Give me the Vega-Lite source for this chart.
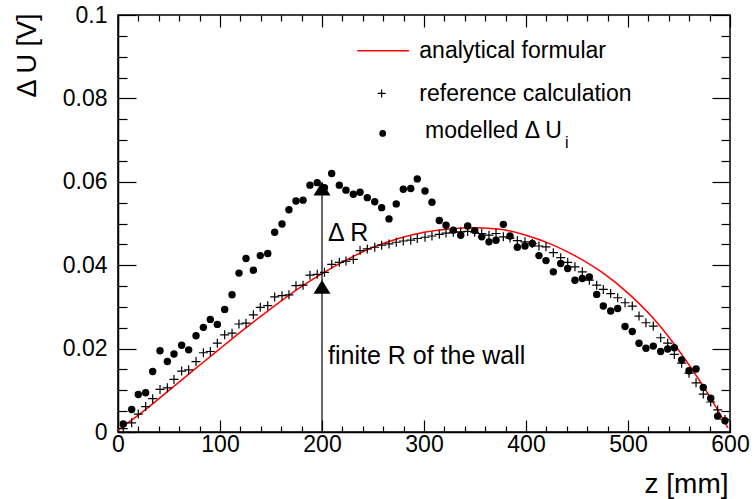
{
  "$schema": "https://vega.github.io/schema/vega-lite/v6.json",
  "width": 612,
  "height": 417,
  "autosize": {"type": "none"},
  "padding": {"left": 118, "top": 15, "right": 25, "bottom": 67},
  "background": "white",
  "config": {
    "font": "Liberation Sans",
    "view": {"stroke": "black", "strokeWidth": 1.5},
    "axis": {
      "domainColor": "black",
      "domainWidth": 1.5,
      "labelColor": "black",
      "labelFont": "Liberation Sans",
      "labelFontSize": 23,
      "labelOverlap": false,
      "labelFlush": false,
      "grid": false,
      "titleFont": "Liberation Sans",
      "titleFontWeight": "normal",
      "titleColor": "black"
    }
  },
  "datasets": {
    "analytical": [
      {"z": 0, "dU": 0.0005}, {"z": 25, "dU": 0.0050}, {"z": 50, "dU": 0.0100}, {"z": 75, "dU": 0.0150},
      {"z": 100, "dU": 0.0200}, {"z": 125, "dU": 0.0249}, {"z": 150, "dU": 0.0296}, {"z": 175, "dU": 0.0341},
      {"z": 200, "dU": 0.0380}, {"z": 225, "dU": 0.0414}, {"z": 250, "dU": 0.0443}, {"z": 275, "dU": 0.0464},
      {"z": 300, "dU": 0.0479}, {"z": 325, "dU": 0.0487}, {"z": 350, "dU": 0.0490}, {"z": 375, "dU": 0.0486},
      {"z": 400, "dU": 0.0472}, {"z": 425, "dU": 0.0450}, {"z": 450, "dU": 0.0420}, {"z": 475, "dU": 0.0382},
      {"z": 500, "dU": 0.0333}, {"z": 525, "dU": 0.0272}, {"z": 550, "dU": 0.0195}, {"z": 575, "dU": 0.0105},
      {"z": 598, "dU": 0.0010}
    ],
    "reference": [
      {"z": 5.2, "dU": 0.0008}, {"z": 13.4, "dU": 0.0022}, {"z": 19.9, "dU": 0.0043}, {"z": 27.1, "dU": 0.0061},
      {"z": 34.0, "dU": 0.0080}, {"z": 41.2, "dU": 0.0102}, {"z": 48.4, "dU": 0.0106}, {"z": 54.9, "dU": 0.0126},
      {"z": 62.4, "dU": 0.0146}, {"z": 69.3, "dU": 0.0149}, {"z": 76.5, "dU": 0.0169}, {"z": 83.7, "dU": 0.0190},
      {"z": 90.5, "dU": 0.0193}, {"z": 97.4, "dU": 0.0213}, {"z": 104.6, "dU": 0.0233}, {"z": 111.8, "dU": 0.0237},
      {"z": 118.6, "dU": 0.0259}, {"z": 125.5, "dU": 0.0261}, {"z": 132.7, "dU": 0.0281}, {"z": 139.5, "dU": 0.0299},
      {"z": 146.8, "dU": 0.0303}, {"z": 153.6, "dU": 0.0324}, {"z": 160.8, "dU": 0.0327}, {"z": 167.6, "dU": 0.0329},
      {"z": 174.5, "dU": 0.0351}, {"z": 181.4, "dU": 0.0352}, {"z": 188.2, "dU": 0.0376}, {"z": 195.3, "dU": 0.0378},
      {"z": 202.4, "dU": 0.0383}, {"z": 209.5, "dU": 0.0402}, {"z": 217.0, "dU": 0.0407}, {"z": 223.5, "dU": 0.0410},
      {"z": 230.7, "dU": 0.0414}, {"z": 237.3, "dU": 0.0435}, {"z": 244.4, "dU": 0.0439}, {"z": 251.7, "dU": 0.0443},
      {"z": 258.5, "dU": 0.0448}, {"z": 265.7, "dU": 0.0451}, {"z": 272.8, "dU": 0.0455}, {"z": 279.7, "dU": 0.0458},
      {"z": 287.0, "dU": 0.0460}, {"z": 293.4, "dU": 0.0464}, {"z": 301.0, "dU": 0.0467}, {"z": 307.8, "dU": 0.0470},
      {"z": 315.0, "dU": 0.0474}, {"z": 321.6, "dU": 0.0477}, {"z": 328.7, "dU": 0.0479}, {"z": 336.0, "dU": 0.0480},
      {"z": 342.8, "dU": 0.0481}, {"z": 349.7, "dU": 0.0479}, {"z": 356.6, "dU": 0.0476}, {"z": 363.7, "dU": 0.0472},
      {"z": 370.6, "dU": 0.0476}, {"z": 377.8, "dU": 0.0468}, {"z": 384.3, "dU": 0.0465}, {"z": 391.5, "dU": 0.0459},
      {"z": 399.0, "dU": 0.0456}, {"z": 406.2, "dU": 0.0452}, {"z": 412.7, "dU": 0.0446}, {"z": 419.6, "dU": 0.0444},
      {"z": 426.8, "dU": 0.0430}, {"z": 434.0, "dU": 0.0418}, {"z": 440.9, "dU": 0.0407}, {"z": 448.0, "dU": 0.0396},
      {"z": 455.2, "dU": 0.0384}, {"z": 462.1, "dU": 0.0364}, {"z": 469.3, "dU": 0.0352}, {"z": 475.8, "dU": 0.0342},
      {"z": 483.0, "dU": 0.0332}, {"z": 489.9, "dU": 0.0322}, {"z": 497.1, "dU": 0.0310}, {"z": 504.2, "dU": 0.0302},
      {"z": 510.8, "dU": 0.0278}, {"z": 517.6, "dU": 0.0262}, {"z": 524.8, "dU": 0.0254}, {"z": 532.0, "dU": 0.0226},
      {"z": 538.9, "dU": 0.0213}, {"z": 545.4, "dU": 0.0186}, {"z": 552.6, "dU": 0.0165}, {"z": 559.8, "dU": 0.0141},
      {"z": 566.7, "dU": 0.0118}, {"z": 573.8, "dU": 0.0091}, {"z": 581.1, "dU": 0.0072}, {"z": 587.9, "dU": 0.0053},
      {"z": 595.1, "dU": 0.0030}
    ],
    "modelled": [
      {"z": 5.2, "dU": 0.0019}, {"z": 13.4, "dU": 0.0054}, {"z": 19.9, "dU": 0.0090}, {"z": 27.1, "dU": 0.0094},
      {"z": 34.0, "dU": 0.0145}, {"z": 41.2, "dU": 0.0195}, {"z": 48.4, "dU": 0.0169}, {"z": 54.9, "dU": 0.0187},
      {"z": 62.4, "dU": 0.0208}, {"z": 69.3, "dU": 0.0197}, {"z": 76.5, "dU": 0.0231}, {"z": 83.7, "dU": 0.0251},
      {"z": 90.5, "dU": 0.0270}, {"z": 97.4, "dU": 0.0258}, {"z": 104.6, "dU": 0.0294}, {"z": 111.8, "dU": 0.0329},
      {"z": 118.6, "dU": 0.0381}, {"z": 125.5, "dU": 0.0416}, {"z": 132.7, "dU": 0.0388}, {"z": 139.5, "dU": 0.0423},
      {"z": 146.8, "dU": 0.0428}, {"z": 153.6, "dU": 0.0479}, {"z": 160.8, "dU": 0.0499}, {"z": 167.6, "dU": 0.0533},
      {"z": 174.5, "dU": 0.0554}, {"z": 181.4, "dU": 0.0556}, {"z": 188.2, "dU": 0.0592}, {"z": 195.3, "dU": 0.0598},
      {"z": 202.4, "dU": 0.0586}, {"z": 209.5, "dU": 0.0620}, {"z": 217.0, "dU": 0.0592}, {"z": 223.5, "dU": 0.0580},
      {"z": 230.7, "dU": 0.0570}, {"z": 237.3, "dU": 0.0575}, {"z": 244.4, "dU": 0.0562}, {"z": 251.7, "dU": 0.0552},
      {"z": 258.5, "dU": 0.0538}, {"z": 265.7, "dU": 0.0511}, {"z": 272.8, "dU": 0.0547}, {"z": 279.7, "dU": 0.0582},
      {"z": 287.0, "dU": 0.0584}, {"z": 293.4, "dU": 0.0607}, {"z": 301.0, "dU": 0.0578}, {"z": 307.8, "dU": 0.0551},
      {"z": 315.0, "dU": 0.0507}, {"z": 321.6, "dU": 0.0496}, {"z": 328.7, "dU": 0.0484}, {"z": 336.0, "dU": 0.0472},
      {"z": 342.8, "dU": 0.0494}, {"z": 349.7, "dU": 0.0483}, {"z": 356.6, "dU": 0.0468}, {"z": 363.7, "dU": 0.0456},
      {"z": 370.6, "dU": 0.0460}, {"z": 377.8, "dU": 0.0498}, {"z": 384.3, "dU": 0.0470}, {"z": 391.5, "dU": 0.0443},
      {"z": 399.0, "dU": 0.0446}, {"z": 406.2, "dU": 0.0452}, {"z": 412.7, "dU": 0.0423}, {"z": 419.6, "dU": 0.0411},
      {"z": 426.8, "dU": 0.0384}, {"z": 434.0, "dU": 0.0404}, {"z": 440.9, "dU": 0.0392}, {"z": 448.0, "dU": 0.0364},
      {"z": 455.2, "dU": 0.0368}, {"z": 462.1, "dU": 0.0372}, {"z": 469.3, "dU": 0.0330}, {"z": 475.8, "dU": 0.0302},
      {"z": 483.0, "dU": 0.0290}, {"z": 489.9, "dU": 0.0296}, {"z": 497.1, "dU": 0.0253}, {"z": 504.2, "dU": 0.0241},
      {"z": 510.8, "dU": 0.0213}, {"z": 517.6, "dU": 0.0201}, {"z": 524.8, "dU": 0.0206}, {"z": 532.0, "dU": 0.0193},
      {"z": 538.9, "dU": 0.0199}, {"z": 545.4, "dU": 0.0202}, {"z": 552.6, "dU": 0.0173}, {"z": 559.8, "dU": 0.0147},
      {"z": 566.7, "dU": 0.0151}, {"z": 573.8, "dU": 0.0107}, {"z": 581.1, "dU": 0.0081}, {"z": 587.9, "dU": 0.0038},
      {"z": 595.1, "dU": 0.0027}
    ]
  },
  "encoding": {
    "x": {"type": "quantitative", "scale": {"domain": [0, 600], "nice": false, "zero": false}},
    "y": {"type": "quantitative", "scale": {"domain": [0, 0.1], "nice": false, "zero": false}}
  },
  "layer": [
    {
      "data": {"name": "analytical"},
      "mark": {"type": "line", "color": "#ff0000", "strokeWidth": 1.5, "interpolate": "monotone"},
      "encoding": {
        "x": {
          "field": "z", "type": "quantitative",
          "axis": {
            "orient": "bottom",
            "values": [0, 100, 200, 300, 400, 500, 600],
            "format": "d",
            "ticks": true, "tickColor": "#000000", "tickOpacity": 1, "tickWidth": 1.2, "tickSize": -12,
            "labelPadding": 13,
            "title": "z [mm]",
            "titleFontSize": 28,
            "titleAnchor": null,
            "titleAlign": "right",
            "titleBaseline": "alphabetic",
            "titleX": 610,
            "titleY": 60
          }
        },
        "y": {
          "field": "dU", "type": "quantitative",
          "axis": {
            "orient": "left",
            "values": [0, 0.02, 0.04, 0.06, 0.08, 0.1],
            "format": ".2~f",
            "ticks": true, "tickColor": "#000000", "tickOpacity": 1, "tickWidth": 1.2, "tickSize": -18,
            "labelPadding": 29,
            "title": "Δ U [V]",
            "titleFontSize": 27,
            "titleAnchor": null,
            "titleAngle": 270,
            "titleAlign": "right",
            "titleBaseline": "middle",
            "titleX": -91,
            "titleY": -2
          }
        }
      }
    },
    {
      "data": {"name": "reference"},
      "mark": {"type": "point", "shape": "M-1,0H1M0,-1V1", "filled": false, "stroke": "black", "strokeWidth": 1.2, "size": 81, "opacity": 1},
      "encoding": {
        "x": {
          "field": "z", "type": "quantitative",
          "axis": {
            "orient": "bottom",
            "values": [20, 40, 60, 80, 120, 140, 160, 180, 220, 240, 260, 280, 320, 340, 360, 380, 420, 440, 460, 480, 520, 540, 560, 580],
            "labels": false, "domain": false, "title": null,
            "ticks": true, "tickColor": "#000000", "tickOpacity": 1, "tickWidth": 1.2, "tickSize": -6
          }
        },
        "y": {
          "field": "dU", "type": "quantitative",
          "axis": {
            "orient": "left",
            "values": [0.005, 0.01, 0.015, 0.025, 0.03, 0.035, 0.045, 0.05, 0.055, 0.065, 0.07, 0.075, 0.085, 0.09, 0.095],
            "labels": false, "domain": false, "title": null,
            "ticks": true, "tickColor": "#000000", "tickOpacity": 1, "tickWidth": 1.2, "tickSize": -9
          }
        }
      }
    },
    {
      "data": {"name": "modelled"},
      "mark": {"type": "point", "shape": "circle", "filled": true, "color": "black", "size": 55, "opacity": 1},
      "encoding": {
        "x": {
          "field": "z", "type": "quantitative",
          "axis": {
            "orient": "top",
            "values": [0, 100, 200, 300, 400, 500, 600],
            "labels": false, "domain": false, "title": null,
            "ticks": true, "tickColor": "#000000", "tickOpacity": 1, "tickWidth": 1.2, "tickSize": -12
          }
        },
        "y": {
          "field": "dU", "type": "quantitative",
          "axis": {
            "orient": "right",
            "values": [0, 0.02, 0.04, 0.06, 0.08, 0.1],
            "labels": false, "domain": false, "title": null,
            "ticks": true, "tickColor": "#000000", "tickOpacity": 1, "tickWidth": 1.2, "tickSize": -18
          }
        }
      }
    },
    {
      "data": {"values": [{}]},
      "mark": {"type": "rule", "color": "black", "strokeWidth": 1.2},
      "encoding": {
        "x": {
          "datum": 200, "type": "quantitative",
          "axis": {
            "orient": "top",
            "values": [20, 40, 60, 80, 120, 140, 160, 180, 220, 240, 260, 280, 320, 340, 360, 380, 420, 440, 460, 480, 520, 540, 560, 580],
            "labels": false, "domain": false, "title": null,
            "ticks": true, "tickColor": "#000000", "tickOpacity": 1, "tickWidth": 1.2, "tickSize": -6
          }
        },
        "y": {
          "datum": 0, "type": "quantitative",
          "axis": {
            "orient": "right",
            "values": [0.005, 0.01, 0.015, 0.025, 0.03, 0.035, 0.045, 0.05, 0.055, 0.065, 0.07, 0.075, 0.085, 0.09, 0.095],
            "labels": false, "domain": false, "title": null,
            "ticks": true, "tickColor": "#000000", "tickOpacity": 1, "tickWidth": 1.2, "tickSize": -9
          }
        },
        "y2": {"datum": 0.0584}
      }
    },
    {
      "data": {"values": [{"z": 200, "dU": 0.0348}, {"z": 200, "dU": 0.0584}]},
      "mark": {"type": "point", "shape": "M0,-0.82L1,0.82L-1,0.82Z", "filled": true, "color": "black", "size": 289, "opacity": 1},
      "encoding": {"x": {"field": "z", "type": "quantitative", "axis": null}, "y": {"field": "dU", "type": "quantitative", "axis": null}}
    },
    {
      "data": {"values": [{}]},
      "mark": {"type": "text", "align": "left", "baseline": "alphabetic", "fontSize": 25, "color": "black", "font": "Liberation Sans"},
      "encoding": {
        "x": {"datum": 205.9, "type": "quantitative", "axis": null},
        "y": {"datum": 0.0458, "type": "quantitative", "axis": null},
        "text": {"value": "Δ R"}
      }
    },
    {
      "data": {"values": [{}]},
      "mark": {"type": "text", "align": "left", "baseline": "alphabetic", "fontSize": 25, "color": "black", "font": "Liberation Sans"},
      "encoding": {
        "x": {"datum": 205.9, "type": "quantitative", "axis": null},
        "y": {"datum": 0.0163, "type": "quantitative", "axis": null},
        "text": {"value": "finite R of the wall"}
      }
    },
    {
      "data": {"values": [{}]},
      "mark": {"type": "rule", "color": "#ff0000", "strokeWidth": 1.5},
      "encoding": {
        "x": {"datum": 234.6, "type": "quantitative", "axis": null},
        "x2": {"datum": 285.3},
        "y": {"datum": 0.0914, "type": "quantitative", "axis": null}
      }
    },
    {
      "data": {"values": [{}]},
      "mark": {"type": "text", "align": "left", "baseline": "alphabetic", "fontSize": 23, "color": "black", "font": "Liberation Sans"},
      "encoding": {
        "x": {"datum": 295.4, "type": "quantitative", "axis": null},
        "y": {"datum": 0.0896, "type": "quantitative", "axis": null},
        "text": {"value": "analytical formular"}
      }
    },
    {
      "data": {"values": [{}]},
      "mark": {"type": "point", "shape": "M-1,0H1M0,-1V1", "filled": false, "stroke": "black", "strokeWidth": 1.2, "size": 64, "opacity": 1},
      "encoding": {
        "x": {"datum": 258.5, "type": "quantitative", "axis": null},
        "y": {"datum": 0.0812, "type": "quantitative", "axis": null}
      }
    },
    {
      "data": {"values": [{}]},
      "mark": {"type": "text", "align": "left", "baseline": "alphabetic", "fontSize": 23, "color": "black", "font": "Liberation Sans"},
      "encoding": {
        "x": {"datum": 295.4, "type": "quantitative", "axis": null},
        "y": {"datum": 0.0794, "type": "quantitative", "axis": null},
        "text": {"value": "reference calculation"}
      }
    },
    {
      "data": {"values": [{}]},
      "mark": {"type": "point", "shape": "circle", "filled": true, "color": "black", "size": 45, "opacity": 1},
      "encoding": {
        "x": {"datum": 259.5, "type": "quantitative", "axis": null},
        "y": {"datum": 0.0716, "type": "quantitative", "axis": null}
      }
    },
    {
      "data": {"values": [{}]},
      "mark": {"type": "text", "align": "left", "baseline": "alphabetic", "fontSize": 23, "color": "black", "font": "Liberation Sans"},
      "encoding": {
        "x": {"datum": 301, "type": "quantitative", "axis": null},
        "y": {"datum": 0.0704, "type": "quantitative", "axis": null},
        "text": {"value": "modelled Δ U"}
      }
    },
    {
      "data": {"values": [{}]},
      "mark": {"type": "text", "align": "left", "baseline": "alphabetic", "fontSize": 16, "color": "black", "font": "Liberation Sans"},
      "encoding": {
        "x": {"datum": 438.2, "type": "quantitative", "axis": null},
        "y": {"datum": 0.0680, "type": "quantitative", "axis": null},
        "text": {"value": "i"}
      }
    }
  ],
  "resolve": {"axis": {"x": "independent", "y": "independent"}}
}
